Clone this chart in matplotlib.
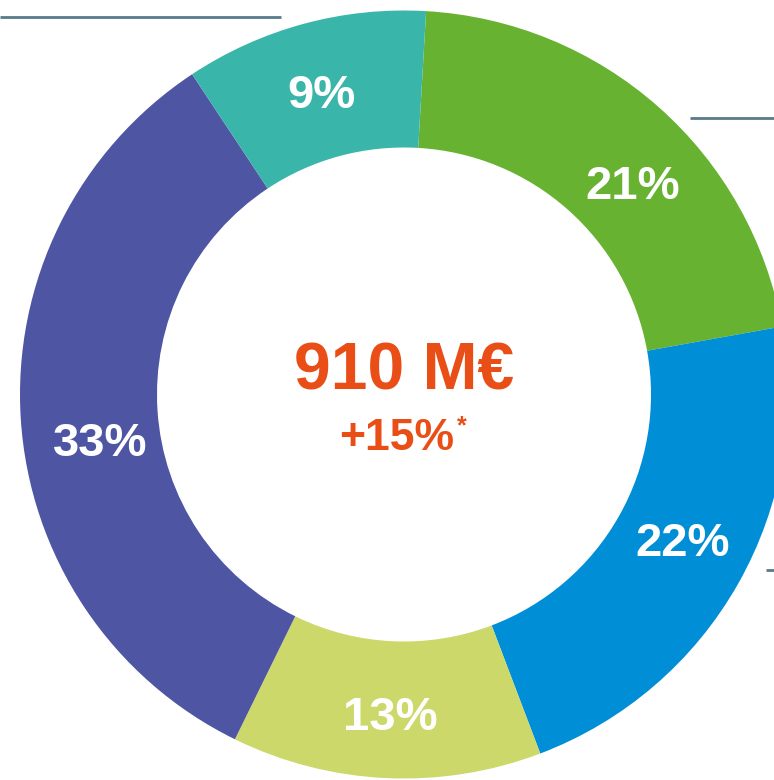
import numpy as np
import matplotlib
matplotlib.use("Agg")
import matplotlib.pyplot as plt

# ---- data ----
segments = ["Green", "Blue", "Yellow", "Purple", "Teal"]
shares = [21.25, 22.06, 13.03, 33.44, 10.22]
labels = ["21%", "22%", "13%", "33%", "9%"]
colors = ["#67B231", "#008ED6", "#CDD86A", "#4E55A3", "#3AB5AA"]
total_text = "910 M€"
growth_text = "+15%"

# ---- layout (pixel space) ----
W, H = 774, 780
cx, cy = 404, H - 394.5
R_out, ring_w = 384, 137
start_deg = 3.3  # clockwise from 12 o'clock
label_angle = [47.2, 117.6, 182.5, 261.5, 344.8]
label_rad = [311, 314, 320, 307, 313]
dy_text = -4  # vertical nudge of label text

plt.rcParams['font.family'] = ['Liberation Sans', 'DejaVu Sans']

fig = plt.figure(figsize=(W / 100, H / 100), dpi=100)
ax = fig.add_axes([0, 0, 1, 1])
ax.pie(shares, colors=colors, radius=R_out, center=(cx, cy),
       startangle=90 - start_deg, counterclock=False,
       wedgeprops=dict(width=ring_w, edgecolor='none', linewidth=0))

for lab, a, r in zip(labels, label_angle, label_rad):
    t = np.deg2rad(a)
    ax.text(cx + r * np.sin(t), cy + r * np.cos(t) + dy_text, lab, color='white',
            fontsize=34, fontweight='bold', ha='center', va='center')

ax.text(cx, H - 373, total_text, color='#E84E16', fontsize=47.5,
        fontweight='bold', ha='center', va='center')
ax.text(cx - 7.5, H - 439, growth_text, color='#E84E16', fontsize=32,
        fontweight='bold', ha='center', va='center')
ax.text(cx + 58, H - 426, "*", color='#E84E16', fontsize=18,
        fontweight='bold', ha='center', va='center')

line_c = '#587A8A'
ax.plot([0, 281], [H - 16.7, H - 16.7], color=line_c, lw=2, solid_capstyle='butt')
ax.plot([690, W], [H - 117.7, H - 117.7], color=line_c, lw=2, solid_capstyle='butt')
ax.plot([766, W], [H - 570, H - 570], color=line_c, lw=2, solid_capstyle='butt')

ax.set_xlim(0, W)
ax.set_ylim(0, H)
ax.set_aspect('equal')
ax.axis('off')
fig.savefig("out.png", dpi=100)
